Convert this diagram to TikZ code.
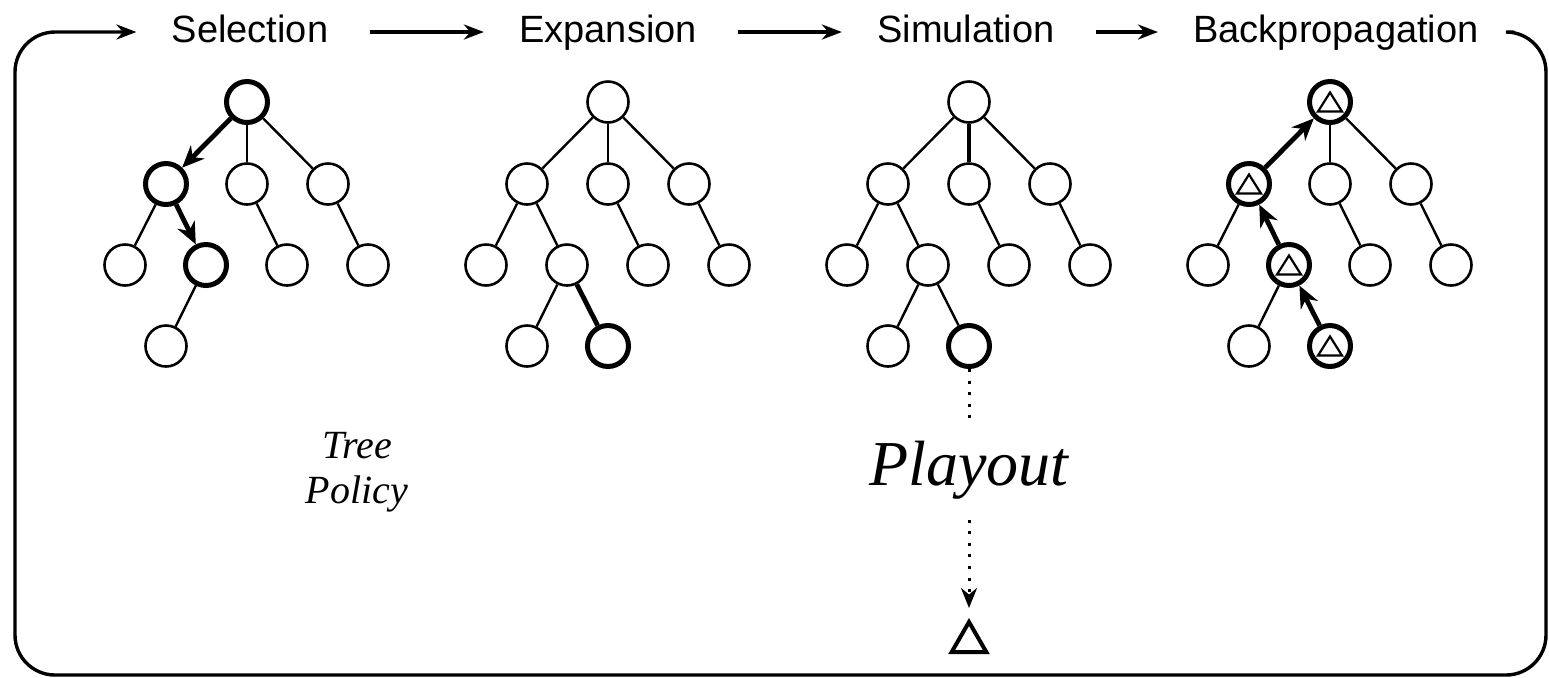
\documentclass[tikz,border=0pt]{standalone}
\usepackage{fontspec}
\setmainfont{Liberation Serif}
\setsansfont{Liberation Sans}
\usepackage{tikz}
\usetikzlibrary{arrows.meta,shapes.geometric}

\tikzset{
  vtx/.style={circle,draw,line width=1.3pt,minimum size=20.5pt,inner sep=0pt},
  hot/.style={vtx,line width=2.5pt},
  scored/.style={hot,path picture={
      \draw[line width=1.1pt] ([yshift=4.75pt]path picture bounding box.center)
        -- ++(-6pt,-9.5pt) -- ++(12pt,0pt) -- cycle;}},
  edge/.style={line width=1.2pt},
  hotedge/.style={line width=2.4pt},
  push/.style={-{Stealth[length=11pt,width=9.5pt]},line width=2.4pt},
  phase/.style={font=\sffamily\fontsize{19}{22}\selectfont,text height=14pt,text depth=4pt,inner xsep=17.5pt,inner ysep=0pt},
  flow/.style={-{Stealth[length=10pt,width=7.5pt]},line width=1.7pt},
  playline/.style={line width=1.5pt,dash pattern=on 1.5pt off 4.3pt},
}

\begin{document}
\begin{tikzpicture}[x=0.5pt,y=-0.5pt]
  \useasboundingbox (0,0) rectangle (1549,677);

  % Phases
  \node[phase] (sel) at (250,32) {Selection};
  \node[phase] (exp) at (608,32) {Expansion};
  \node[phase] (sim) at (966,32) {Simulation};
  \node[phase] (bp) at (1336,32) {Backpropagation};
  \draw[flow,shorten <=3pt] (sel) -- (exp);
  \draw[flow,shorten <=3pt] (exp) -- (sim);
  \draw[flow,shorten <=3pt] (sim) -- (bp);
  % Loop back round the frame
  \coordinate (frameSE) at (1546,675);
  \coordinate (frameNW) at (15,32);
  \draw[flow,rounded corners=20pt] (bp.east) -| (frameSE) -| (frameNW) -- (sel.west);

  % Tree: selection
  \node[hot] (sl) at (247,102) {};
  \node[hot] (sl1) at (166,184) {};
  \node[vtx] (sl2) at (247,184) {};
  \node[vtx] (sl3) at (328,184) {};
  \node[vtx] (sl11) at (125,265) {};
  \node[hot] (sl12) at (206,265) {};
  \node[vtx] (sl21) at (287,265) {};
  \node[vtx] (sl31) at (368,265) {};
  \node[vtx] (sl121) at (166,346) {};
  \draw[push] (sl) -- (sl1);
  \draw[push] (sl1) -- (sl12);
  \draw[edge] (sl) -- (sl2);
  \draw[edge] (sl) -- (sl3);
  \draw[edge] (sl1) -- (sl11);
  \draw[edge] (sl2) -- (sl21);
  \draw[edge] (sl3) -- (sl31);
  \draw[edge] (sl12) -- (sl121);
  \node[font=\itshape\fontsize{20}{22.5}\selectfont,align=center] (policy) at (357,472) {Tree\\Policy};

  % Tree: expansion
  \node[vtx] (ex) at (608,102) {};
  \node[vtx] (ex1) at (527,184) {};
  \node[vtx] (ex2) at (608,184) {};
  \node[vtx] (ex3) at (689,184) {};
  \node[vtx] (ex11) at (486,265) {};
  \node[vtx] (ex12) at (567,265) {};
  \node[vtx] (ex21) at (648,265) {};
  \node[vtx] (ex31) at (729,265) {};
  \node[vtx] (ex121) at (527,346) {};
  \node[hot] (ex122) at (608,346) {};
  \draw[edge] (ex) -- (ex1);
  \draw[edge] (ex) -- (ex2);
  \draw[edge] (ex) -- (ex3);
  \draw[edge] (ex1) -- (ex11);
  \draw[edge] (ex1) -- (ex12);
  \draw[edge] (ex2) -- (ex21);
  \draw[edge] (ex3) -- (ex31);
  \draw[edge] (ex12) -- (ex121);
  \draw[hotedge] (ex12) -- (ex122);

  % Tree: simulation
  \node[vtx] (sm) at (969,102) {};
  \node[vtx] (sm1) at (888,184) {};
  \node[vtx] (sm2) at (969,184) {};
  \node[vtx] (sm3) at (1050,184) {};
  \node[vtx] (sm11) at (847,265) {};
  \node[vtx] (sm12) at (928,265) {};
  \node[vtx] (sm21) at (1009,265) {};
  \node[vtx] (sm31) at (1090,265) {};
  \node[vtx] (sm121) at (888,346) {};
  \node[hot] (sm122) at (969,346) {};
  \draw[edge] (sm) -- (sm1);
  \draw[edge,line width=1.8pt] (sm) -- (sm2);
  \draw[edge] (sm) -- (sm3);
  \draw[edge] (sm1) -- (sm11);
  \draw[edge] (sm1) -- (sm12);
  \draw[edge] (sm2) -- (sm21);
  \draw[edge] (sm3) -- (sm31);
  \draw[edge] (sm12) -- (sm121);
  \draw[edge] (sm12) -- (sm122);
  % Playout down to the terminal
  \node[font=\itshape\fontsize{32}{36}\selectfont,inner xsep=0pt,inner ysep=10pt] (playout) at (969,470) {Playout};
  \node[regular polygon,regular polygon sides=3,draw,line width=2pt,minimum size=20pt,inner sep=0pt] (term) at (969,642) {};
  \draw[playline] (sm122) -- (playout);
  \draw[playline,-{Stealth[length=10pt,width=8pt]},shorten >=5pt] (playout) -- (term);

  % Tree: backpropagation
  \node[scored] (bq) at (1330,102) {};
  \node[scored] (bq1) at (1249,184) {};
  \node[vtx] (bq2) at (1330,184) {};
  \node[vtx] (bq3) at (1411,184) {};
  \node[vtx] (bq11) at (1208,265) {};
  \node[scored] (bq12) at (1289,265) {};
  \node[vtx] (bq21) at (1370,265) {};
  \node[vtx] (bq31) at (1451,265) {};
  \node[vtx] (bq121) at (1249,346) {};
  \node[scored] (bq122) at (1330,346) {};
  \draw[push] (bq122) -- (bq12);
  \draw[push] (bq12) -- (bq1);
  \draw[push] (bq1) -- (bq);
  \draw[edge] (bq) -- (bq2);
  \draw[edge] (bq) -- (bq3);
  \draw[edge] (bq1) -- (bq11);
  \draw[edge] (bq2) -- (bq21);
  \draw[edge] (bq3) -- (bq31);
  \draw[edge] (bq12) -- (bq121);
\end{tikzpicture}
\end{document}
